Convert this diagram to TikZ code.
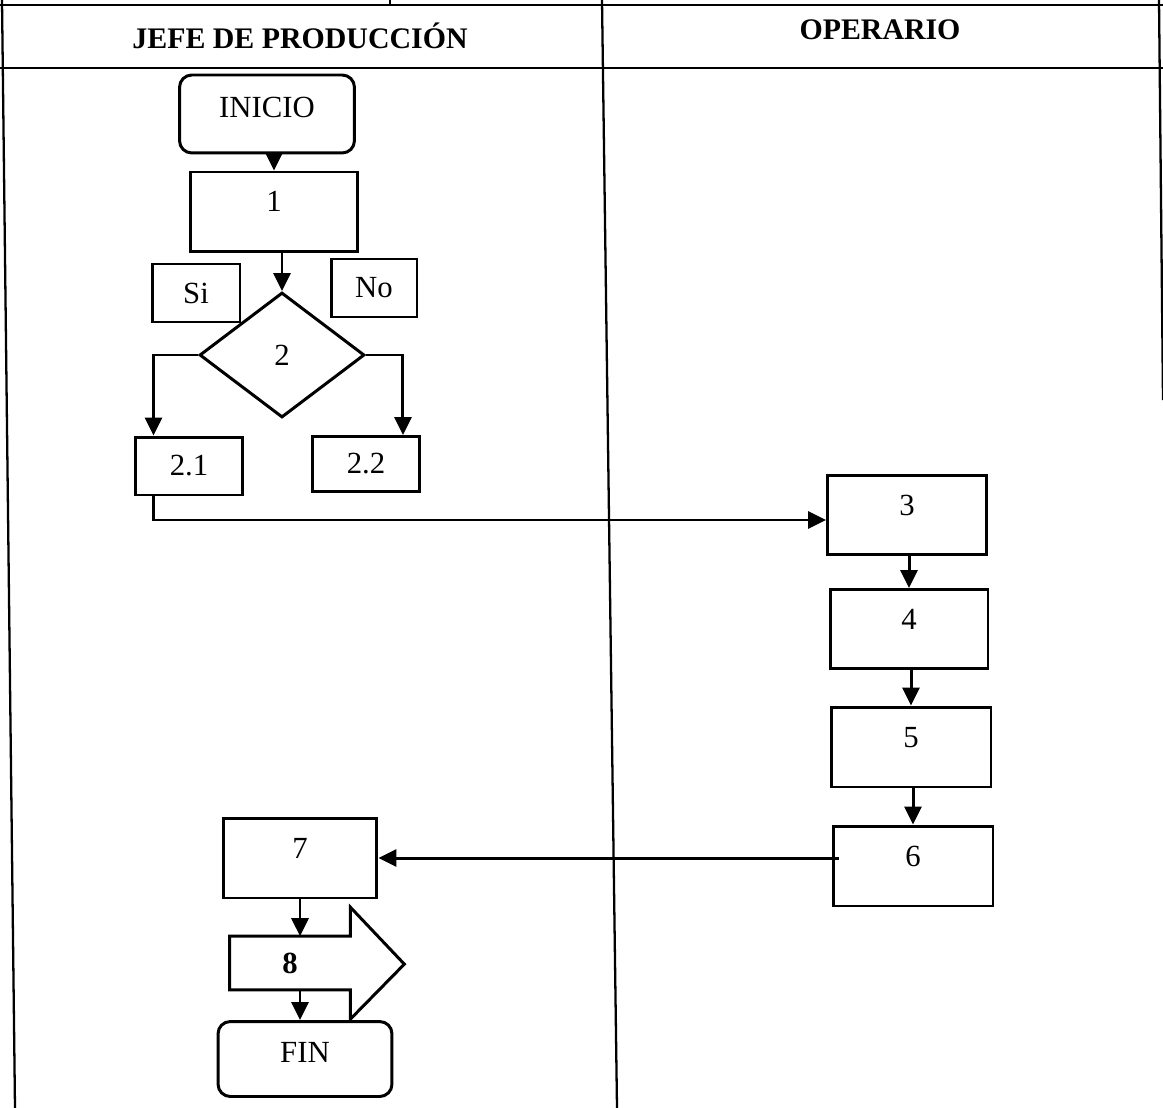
\documentclass[tikz,border=0pt]{standalone}
\usepackage{fontspec}
\setmainfont{Liberation Serif}
\usetikzlibrary{calc,positioning,arrows.meta,shapes.geometric}

\begin{document}
\begin{tikzpicture}[
  x=0.02cm,y=-0.02cm,
  font=\fontsize{17.5}{20}\selectfont,
  >={Triangle[length=0.36cm,width=0.34cm]},
  grid/.style={line width=1.3pt},
  flow/.style={->, line width=1.7pt},
  stepbox/.style={draw, line width=1.7pt, inner sep=0pt, text height=0.4cm, text depth=0.4cm},
  endbox/.style={stepbox, rounded corners=7pt, text depth=0.25cm},
  tag/.style={draw, line width=1.7pt, inner sep=0pt},
  choice/.style={draw, diamond, line width=1.7pt, inner sep=0pt},
  head/.style={font=\fontsize{17}{20}\selectfont\bfseries}
]
  \useasboundingbox (0,0) rectangle (1163,1108);

  % table
  \draw[grid] (0,5) -- (1163,5);
  \draw[grid] (390,0) -- (390,5);
  \draw[grid] (0,68) -- (1163,68);
  \draw[grid] (2,0) -- (15,1108);
  \draw[grid] (602,0) -- (617,1108);
  \draw[grid] (1159,0) -- (1163,400);

  \node[head] (jefe) at (300,36) {JEFE DE PRODUCCIÓN};
  \node[head] (oper) at (880,30) {OPERARIO};

  % jefe de produccion
  \node[endbox, minimum width=3.5cm, minimum height=1.56cm] (inicio) at (267,114) {INICIO};
  \node[stepbox, minimum width=3.36cm, minimum height=1.6cm] (b1) at (274,212) {1};
  \node[tag, minimum width=1.76cm, minimum height=1.16cm] (si) at (196,293) {Si};
  \node[tag, minimum width=1.72cm, minimum height=1.16cm] (no) at (374,288) {No};
  \node[choice, minimum width=3.3cm, minimum height=2.5cm] (d2) at (282,355) {2};
  \node[tag, minimum width=2.16cm, minimum height=1.16cm] (b21) at (189,466) {2.1};
  \node[tag, minimum width=2.14cm, minimum height=1.1cm] (b22) at (366,464) {2.2};

  % operario
  \node[stepbox, minimum width=3.18cm, minimum height=1.58cm] (b3) at (907,515) {3};
  \node[stepbox, minimum width=3.16cm, minimum height=1.58cm] (b4) at (909,629) {4};
  \node[stepbox, minimum width=3.2cm, minimum height=1.6cm] (b5) at (911,747) {5};
  \node[stepbox, minimum width=3.2cm, minimum height=1.6cm] (b6) at (913,866) {6};

  % cierre
  \node[stepbox, minimum width=3.08cm, minimum height=1.6cm] (b7) at (300,858) {7};
  \node[inner sep=0pt, minimum width=2.4cm, minimum height=1.06cm, font=\fontsize{17.5}{20}\selectfont\bfseries] (b8) at (290,963) {8};
  \draw[line width=1.7pt, line join=miter] (b8.north west) -- (b8.north east) -- ++(0,-29) -- ++(54,57)
    -- ++(-54,55) -- (b8.south east) -- (b8.south west) -- cycle;
  \node[endbox, minimum width=3.48cm, minimum height=1.5cm] (fin) at (305,1059) {FIN};

  \draw[flow] (inicio.south -| b1.north) -- (b1.north);
  \draw[flow] (d2.north |- b1.south) -- (d2.north);
  \draw[flow] (d2.west) -| ([xshift=0.4cm]b21.north west);
  \draw[flow] (d2.east) -| ([xshift=-0.36cm]b22.north east);
  \draw[flow] ([xshift=0.4cm]b21.south west) |- ([yshift=-0.1cm]b3.west);
  \draw[flow] (b4.north |- b3.south) -- (b4.north);
  \draw[flow] (b5.north |- b4.south) -- (b5.north);
  \draw[flow] (b6.north |- b5.south) -- (b6.north);
  \draw[flow] ([xshift=0.14cm]b6.west |- b7.east) -- (b7.east);
  \draw[flow] (b7.south) -- (b7.south |- b8.north);
  \draw[flow] (b7.south |- b8.south) -- (b7.south |- fin.north);
\end{tikzpicture}
\end{document}
